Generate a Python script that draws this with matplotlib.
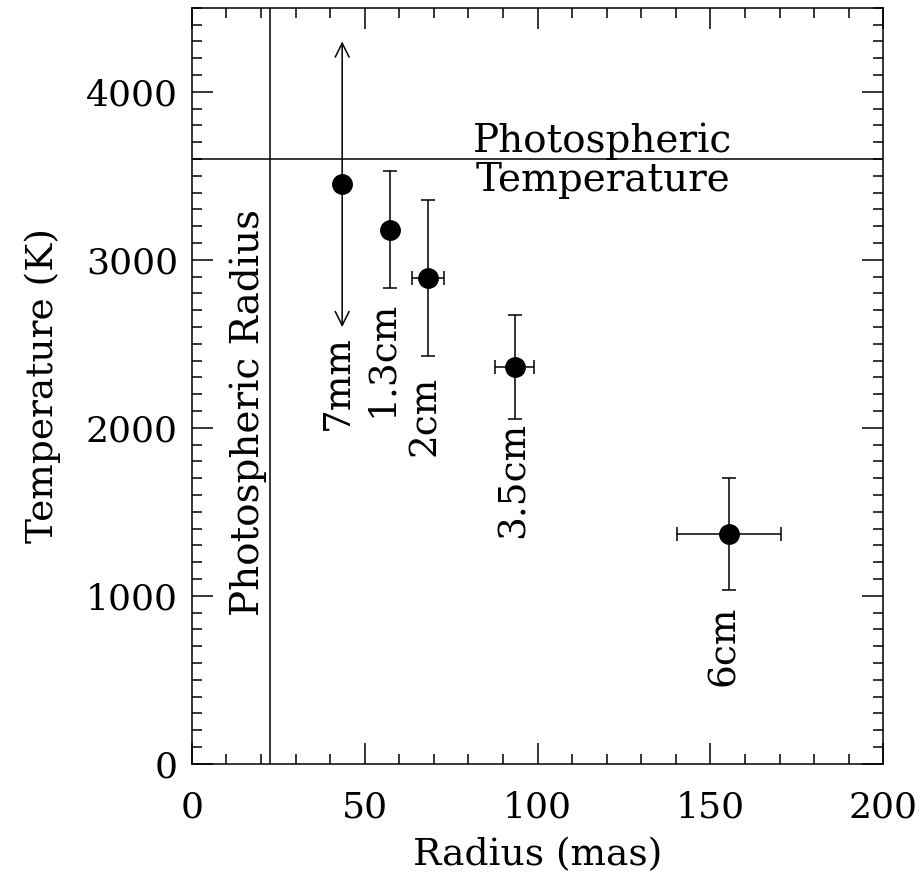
import matplotlib
matplotlib.use('Agg')
import matplotlib.pyplot as plt
from matplotlib.ticker import MultipleLocator

plt.rcParams['font.family'] = 'DejaVu Serif'

# data
radius = [43.5, 57.2, 68.3, 93.4, 155.4]       # mas
temp = [3450, 3180, 2890, 2360, 1370]          # K
temp_err = [0, 350, 465, 310, 333]
radius_err = [0, 0, 4.6, 5.7, 15]
bands = ['7mm', '1.3cm', '2cm', '3.5cm', '6cm']
label_x = [42.4, 55.1, 67.5, 93.0, 153.8]
label_y = [2270, 2410, 2070, 1690, 700]

arrow_range = [2600, 4300]    # range for the 7mm point
phot_radius = 22.5
phot_temp = 3600

fig = plt.figure(figsize=(9.22, 8.77), dpi=100)
ax = fig.add_axes([0.208, 0.129, 0.750, 0.862])

lw = 1.1
fs = 27
ax.errorbar(radius[1:], temp[1:], yerr=temp_err[1:], xerr=radius_err[1:],
            fmt='none', ecolor='black', elinewidth=lw, capsize=5, capthick=lw)
ax.plot(radius, temp, 'o', color='black', ms=14, zorder=3)

# 7mm range shown as a double arrow
ax.annotate('', xy=(radius[0], arrow_range[1]), xytext=(radius[0], arrow_range[0]),
            arrowprops=dict(arrowstyle='<->', color='black', lw=lw,
                            mutation_scale=25, shrinkA=0, shrinkB=0))

for name, lx, ly in zip(bands, label_x, label_y):
    ax.text(lx, ly, name, rotation=90, ha='center', va='center', fontsize=fs)

ax.axvline(phot_radius, color='black', lw=lw)
ax.axhline(phot_temp, color='black', lw=lw)
ax.text(16.3, 2092, 'Photospheric Radius', rotation=90, ha='center', va='center', fontsize=28)
ax.text(118.8, phot_temp - 10, 'Photospheric\nTemperature', ha='center', va='center',
        fontsize=28, linespacing=1.1)

ax.set_xlim(0, 200)
ax.set_ylim(0, 4500)
ax.xaxis.set_major_locator(MultipleLocator(50))
ax.xaxis.set_minor_locator(MultipleLocator(10))
ax.yaxis.set_major_locator(MultipleLocator(1000))
ax.yaxis.set_minor_locator(MultipleLocator(100))
ax.tick_params(which='both', direction='in', top=True, right=True, width=lw, labelsize=26)
ax.tick_params(axis='x', which='both', pad=19)
ax.tick_params(axis='y', which='both', pad=10)
ax.tick_params(which='major', length=15)
ax.tick_params(which='minor', length=7)
for s in ax.spines.values():
    s.set_linewidth(lw)

ax.set_xlabel('Radius (mas)', fontsize=fs, labelpad=9)
ax.set_ylabel('Temperature (K)', fontsize=fs, labelpad=18)

fig.savefig('out.png', dpi=100)
